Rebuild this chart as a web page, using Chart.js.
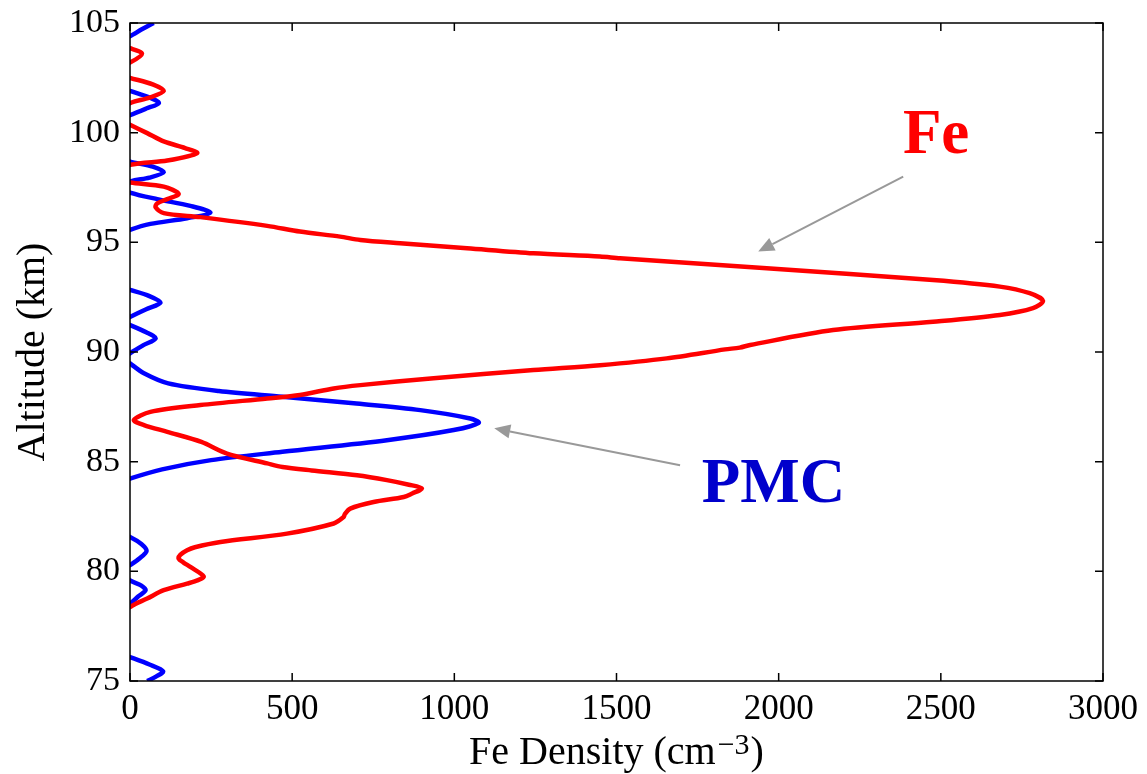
<!DOCTYPE html>
<html><head><meta charset="utf-8">
<script src="https://cdn.jsdelivr.net/npm/chart.js@4.4.1/dist/chart.umd.min.js"></script>
<style>html,body{margin:0;padding:0;background:#fff;}#wrap{width:1147px;height:774px;position:relative;}</style>
</head><body><div id="wrap"><canvas id="c"></canvas></div>
<script>
// Fe profile (altitude km, density cm^-3); negative values are hidden behind the axis
const feAltitude = [105, 104.0, 103.85, 103.6, 103.2, 103.0, 102.6, 102.5, 102.2, 101.9, 101.6, 101.35, 101.0, 100.5, 100.36, 99.98, 99.6, 99.3, 99.07, 98.73, 98.53, 98.1, 97.8, 97.73, 97.54, 97.21, 96.97, 96.78, 96.6, 96.33, 96.15, 95.75, 95.49, 95.26, 95.11, 94.96, 94.73, 94.5, 94.35, 94.27, 93.82, 93.28, 92.98, 92.68, 92.33, 92.0, 91.69, 91.38, 91.0, 90.32, 90.2, 90.12, 89.71, 89.4, 89.18, 88.8, 88.49, 88.34, 88.04, 87.88, 87.58, 87.27, 86.9, 86.67, 86.36, 85.9, 85.37, 84.92, 84.76, 84.6, 84.38, 84.16, 83.95, 83.78, 83.55, 83.39, 83.16, 82.86, 82.6, 82.48, 82.18, 81.72, 81.34, 81.1, 80.96, 80.75, 80.58, 80.4, 80.2, 79.77, 79.6, 79.44, 79.14, 78.76, 78.5, 78.37, 78.2, 75];
const feDensity = [-40, -40, 0, 37, 0, -40, -20, 0, 70, 104, 60, 0, -40, -20, 0, 53, 104, 170, 207, 115, 0, -40, -10, 0, 104, 150, 115, 84, 79, 104, 217, 423, 524, 648, 710, 833, 1039, 1244, 1449, 1511, 1963, 2476, 2682, 2774, 2815, 2784, 2682, 2476, 2168, 1912, 1880, 1835, 1655, 1449, 1244, 936, 710, 628, 524, 423, 217, 63, 12, 43, 115, 220, 299, 423, 470, 560, 700, 792, 860, 900, 870, 844, 751, 679, 662, 659, 628, 484, 279, 200, 176, 155, 150, 165, 186, 227, 210, 176, 104, 53, 15, 0, -40, -40];

// PMC profile
const pmcAltitude = [105, 104.7, 104.4, 104.2, 102.1, 101.9, 101.6, 101.35, 101.1, 100.8, 100.6, 98.9, 98.68, 98.45, 98.2, 97.95, 97.77, 97.5, 97.27, 96.97, 96.66, 96.36, 96.1, 95.84, 95.57, 95.3, 93.0, 92.83, 92.55, 92.25, 91.95, 91.6, 91.4, 91.23, 90.9, 90.62, 90.3, 89.94, 89.7, 89.48, 89.03, 88.57, 88.22, 87.96, 87.66, 87.35, 86.97, 86.77, 86.44, 85.98, 85.45, 85.07, 84.65, 84.23, 84.0, 81.8, 81.57, 81.25, 80.93, 80.6, 80.28, 80.0, 79.59, 79.35, 79.14, 78.85, 78.53, 78.3, 76.3, 76.09, 75.75, 75.44, 75.2, 75];
const pmcDensity = [73, 35, 0, -40, -40, 0, 60, 89, 50, 0, -40, -40, 0, 70, 104, 60, 0, -30, 0, 84, 186, 248, 176, 63, 0, -40, -40, 0, 60, 94, 50, 0, -30, 0, 50, 79, 40, 0, -20, 0, 43, 118, 274, 470, 690, 895, 1049, 1075, 998, 792, 470, 250, 99, 0, -40, -40, 0, 35, 51, 30, 0, -30, 0, 35, 48, 25, 0, -40, -40, 0, 60, 102, 80, 53];

const xTicks = [0, 500, 1000, 1500, 2000, 2500, 3000];
const yTicks = [75, 80, 85, 90, 95, 100, 105];
const xTitleMain = 'Fe Density (cm';
const xTitleSup = '\u22123';
const xTitleEnd = ')';
const yTitle = 'Altitude (km)';
const seriesLabels = ['Fe', 'PMC'];

// annotation placements (data coordinates)
const textNotes = [
  {text: 'Fe', x: 2383, y: 99.08, color: '#ff0000'},
  {text: 'PMC', x: 1763, y: 83.17, color: '#0000cc'}
];
const arrowNotes = [
  {x0: 2384, y0: 98.0, x1: 1937, y1: 94.58},
  {x0: 1696, y0: 84.84, x1: 1123, y1: 86.52}
];

const SERIF = '"Liberation Serif", "Times New Roman", serif';

const toPts = (alt, den) => alt.map((a, i) => ({x: den[i], y: a}));

const boxPlugin = {
  id: 'box',
  afterDraw(chart) {
    const {ctx, chartArea: a, scales: {x, y}} = chart;
    ctx.save();
    ctx.strokeStyle = '#000';
    ctx.lineWidth = 1.5;
    ctx.strokeRect(a.left, a.top, a.right - a.left, a.bottom - a.top);
    const tl = 8;
    ctx.beginPath();
    x.ticks.forEach(t => {
      const px = x.getPixelForValue(t.value);
      ctx.moveTo(px, a.bottom); ctx.lineTo(px, a.bottom - tl);
      ctx.moveTo(px, a.top); ctx.lineTo(px, a.top + tl);
    });
    y.ticks.forEach(t => {
      const py = y.getPixelForValue(t.value);
      ctx.moveTo(a.left, py); ctx.lineTo(a.left + tl, py);
      ctx.moveTo(a.right, py); ctx.lineTo(a.right - tl, py);
    });
    ctx.stroke();

    // x title with superscript
    ctx.fillStyle = '#000';
    ctx.textBaseline = 'alphabetic';
    ctx.textAlign = 'left';
    const mainFont = '40px ' + SERIF, supFont = '30px ' + SERIF;
    ctx.font = mainFont; const w1 = ctx.measureText(xTitleMain).width; const w3 = ctx.measureText(xTitleEnd).width;
    ctx.font = supFont; const w2 = ctx.measureText(xTitleSup).width;
    const cx = (a.left + a.right) / 2;
    const sx = cx - (w1 + w2 + w3 + 3) / 2;
    const base = 764;
    ctx.font = mainFont; ctx.fillText(xTitleMain, sx, base);
    ctx.font = supFont; ctx.fillText(xTitleSup, sx + w1 + 2, base - 10);
    ctx.font = mainFont; ctx.fillText(xTitleEnd, sx + w1 + w2 + 3, base);

    // y title
    ctx.save();
    ctx.translate(44, (a.top + a.bottom) / 2);
    ctx.rotate(-Math.PI / 2);
    ctx.textAlign = 'center';
    ctx.font = '40px ' + SERIF;
    ctx.fillText(yTitle, 0, 0);
    ctx.restore();

    // arrows
    arrowNotes.forEach(n => {
      const X0 = x.getPixelForValue(n.x0), Y0 = y.getPixelForValue(n.y0);
      const X1 = x.getPixelForValue(n.x1), Y1 = y.getPixelForValue(n.y1);
      const ang = Math.atan2(Y1 - Y0, X1 - X0);
      const hl = 16, hw = 7;
      const bx = X1 - hl * Math.cos(ang), by = Y1 - hl * Math.sin(ang);
      ctx.strokeStyle = '#999999'; ctx.fillStyle = '#999999'; ctx.lineWidth = 2;
      ctx.beginPath(); ctx.moveTo(X0, Y0); ctx.lineTo(bx, by); ctx.stroke();
      ctx.beginPath();
      ctx.moveTo(X1, Y1);
      ctx.lineTo(bx + hw * Math.sin(ang), by - hw * Math.cos(ang));
      ctx.lineTo(bx - hw * Math.sin(ang), by + hw * Math.cos(ang));
      ctx.closePath(); ctx.fill();
    });

    // labels
    textNotes.forEach(n => {
      ctx.font = 'bold 63px ' + SERIF;
      ctx.fillStyle = n.color;
      ctx.textAlign = 'left';
      ctx.textBaseline = 'alphabetic';
      ctx.fillText(n.text, x.getPixelForValue(n.x), y.getPixelForValue(n.y));
    });
    ctx.restore();
  }
};

new Chart(document.getElementById('c'), {
  type: 'scatter',
  data: {
    datasets: [
      {label: seriesLabels[0], data: toPts(feAltitude, feDensity), borderColor: '#ff0000', backgroundColor: '#ff0000', borderWidth: 4.5, showLine: true, pointRadius: 0, tension: 0.3, clip: 0, fill: false},
      {label: seriesLabels[1], data: toPts(pmcAltitude, pmcDensity), borderColor: '#0000ff', backgroundColor: '#0000ff', borderWidth: 4.5, showLine: true, pointRadius: 0, tension: 0.3, clip: 0, fill: false}
    ]
  },
  options: {
    responsive: true,
    maintainAspectRatio: false,
    animation: false,
    events: [],
    layout: {padding: {top: 23, right: 44, left: 0, bottom: 0}},
    plugins: {legend: {display: false}, tooltip: {enabled: false}},
    scales: {
      x: {
        type: 'linear', min: 0, max: 3000,
        afterBuildTicks: s => { s.ticks = xTicks.map(v => ({value: v})); },
        afterFit: s => { s.height = 93; },
        grid: {display: false, drawTicks: false},
        border: {display: false},
        ticks: {color: '#000', padding: 8, maxRotation: 0, font: {family: SERIF, size: 35}, callback: v => String(v)}
      },
      y: {
        type: 'linear', min: 75, max: 105,
        afterBuildTicks: s => { s.ticks = yTicks.map(v => ({value: v})); },
        afterFit: s => { s.width = 130; },
        grid: {display: false, drawTicks: false},
        border: {display: false},
        ticks: {color: '#000', padding: 10, font: {family: SERIF, size: 34, lineHeight: 0.7}, callback: v => String(v)}
      }
    }
  },
  plugins: [boxPlugin]
});
</script>
</body></html>
